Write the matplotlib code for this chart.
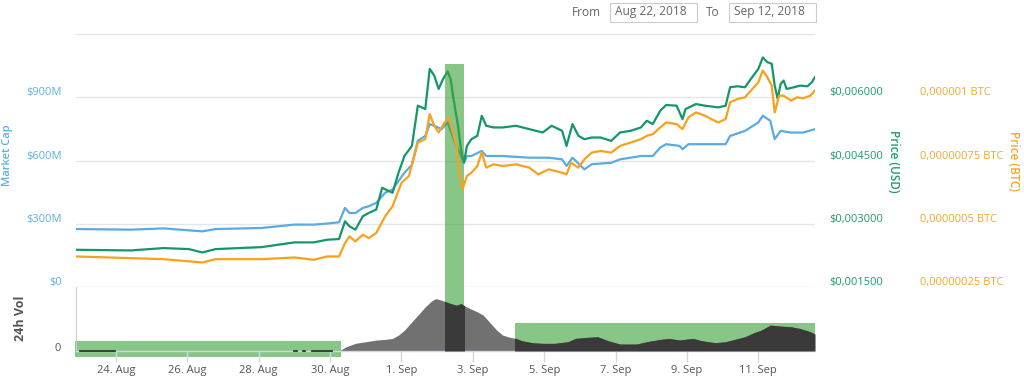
import numpy as np
import pandas as pd
import matplotlib
matplotlib.use("Agg")
import matplotlib.pyplot as plt
import matplotlib.dates as mdates
from matplotlib.patches import Rectangle
from matplotlib.transforms import ScaledTranslation

plt.rcParams['font.family'] = ['Open Sans', 'DejaVu Sans']

# ---------------- data (time in hours since 2018-08-22 00:00) ----------------
START = "2018-08-22 00:00"

t_usd = [21, 58, 80, 97, 106, 115, 146, 168, 181, 190, 198, 202, 205, 209, 214, 218, 223, 227, 234, 238,
         242, 247, 251, 256, 259, 262, 265, 268, 271, 273, 275, 278, 280, 282, 284, 287, 291, 294, 297, 302,
         308, 317, 326, 335, 341, 348, 351, 355, 359, 363, 368, 374, 381, 387, 394, 401, 405, 409, 414, 418,
         425, 429, 431, 438, 444, 453, 458, 461, 466, 471, 475, 480, 483, 486, 489, 491, 493, 495, 497, 499,
         504, 508, 513, 516, 518]
price_usd = [0.002389, 0.002373, 0.002429, 0.002405, 0.002325, 0.002405, 0.002452, 0.002564, 0.002564, 0.002627,
             0.002643, 0.003064, 0.002945, 0.002865, 0.003183, 0.003262, 0.003341, 0.003857, 0.003738, 0.004214,
             0.004611, 0.004849, 0.005802, 0.005722, 0.006675, 0.006516, 0.006199, 0.006437, 0.006611, 0.006437,
             0.005961, 0.005326, 0.004770, 0.004453, 0.004849, 0.005008, 0.005088, 0.005564, 0.005326, 0.005286,
             0.005286, 0.005326, 0.005246, 0.005167, 0.005326, 0.005207, 0.004849, 0.005365, 0.005088, 0.005008,
             0.005048, 0.005048, 0.004968, 0.005167, 0.005207, 0.005286, 0.005445, 0.005365, 0.005683, 0.005818,
             0.005802, 0.005484, 0.005722, 0.005841, 0.005802, 0.005762, 0.005802, 0.006238, 0.006262, 0.006238,
             0.006437, 0.006675, 0.006945, 0.006834, 0.006794, 0.006278, 0.005961, 0.006318, 0.006397, 0.006199,
             0.006238, 0.006278, 0.006262, 0.006357, 0.006477]

t_btc = [21, 58, 80, 106, 115, 146, 168, 181, 190, 198, 202, 205, 209, 214, 218, 223, 229, 234, 240, 245,
         251, 256, 259, 262, 265, 269, 272, 274, 277, 279, 281, 284, 287, 291, 294, 297, 302, 308, 317, 326,
         332, 339, 348, 351, 354, 359, 363, 368, 374, 381, 387, 394, 401, 405, 409, 414, 418, 425, 429, 433,
         438, 444, 453, 458, 461, 466, 471, 475, 480, 483, 486, 489, 491, 494, 497, 502, 506, 510, 515, 518]
price_btc = [3.717e-7, 3.651e-7, 3.611e-7, 3.479e-7, 3.611e-7, 3.611e-7, 3.677e-7, 3.585e-7, 3.717e-7, 3.717e-7,
             4.246e-7, 4.511e-7, 4.312e-7, 4.577e-7, 4.445e-7, 4.643e-7, 5.304e-7, 5.701e-7, 6.627e-7, 6.892e-7,
             8.214e-7, 8.347e-7, 9.339e-7, 8.876e-7, 8.611e-7, 9.008e-7, 9.207e-7, 8.744e-7, 8.082e-7, 7.024e-7,
             6.363e-7, 6.892e-7, 7.024e-7, 7.289e-7, 7.818e-7, 7.222e-7, 7.355e-7, 7.289e-7, 7.355e-7, 7.222e-7,
             6.958e-7, 7.156e-7, 7.024e-7, 6.958e-7, 7.421e-7, 7.222e-7, 7.553e-7, 7.818e-7, 7.884e-7, 7.818e-7,
             8.082e-7, 8.214e-7, 8.347e-7, 8.479e-7, 8.545e-7, 8.810e-7, 9.008e-7, 8.942e-7, 8.744e-7, 9.207e-7,
             9.405e-7, 9.273e-7, 9.008e-7, 9.140e-7, 9.802e-7, 9.934e-7, 10.000e-7, 10.265e-7, 10.595e-7, 11.059e-7,
             10.794e-7, 10.463e-7, 9.405e-7, 10.066e-7, 10.066e-7, 9.868e-7, 10.000e-7, 9.961e-7, 10.066e-7, 10.265e-7]

t_mcap = [21, 58, 80, 106, 115, 146, 168, 181, 190, 198, 202, 205, 209, 214, 218, 223, 229, 234, 238, 242,
          247, 251, 256, 259, 262, 267, 271, 275, 280, 282, 284, 287, 294, 297, 308, 326, 339, 348, 351, 355,
          363, 368, 381, 387, 401, 409, 414, 418, 427, 429, 433, 444, 458, 461, 471, 480, 483, 488, 491, 495,
          502, 510, 518]
market_cap_m = [276, 273, 279, 265, 276, 281, 297, 297, 302, 308, 376, 352, 352, 376, 384, 400, 448, 463, 503, 543,
                580, 695, 717, 773, 765, 749, 781, 702, 622, 590, 622, 622, 646, 622, 622, 614, 614, 606, 575, 614,
                559, 583, 590, 606, 622, 622, 662, 678, 670, 654, 678, 678, 678, 717, 741, 781, 813, 789, 702, 741,
                733, 733, 749]

t_vol = [199, 203, 209, 216, 223, 229, 234, 238, 242, 247, 251, 256, 260, 263, 267, 270, 273, 277, 280, 283,
         286, 291, 295, 299, 304, 308, 313, 317, 321, 328, 335, 343, 352, 357, 365, 372, 379, 387, 398, 405,
         414, 420, 427, 436, 442, 451, 458, 464, 471, 477, 482, 488, 495, 502, 508, 515, 518]
volume_m = [1.6, 6.8, 12.0, 14.6, 17.2, 18.2, 19.8, 25.0, 32.8, 45.8, 56.2, 69.3, 78.1, 82.3, 79.7, 77.1, 74.5, 71.9,
            74.5, 70.3, 66.7, 61.5, 56.2, 45.8, 32.8, 25.0, 21.4, 19.8, 16.1, 13.0, 12.0, 12.0, 14.6, 19.8, 21.4,
            22.4, 16.1, 10.9, 10.9, 14.6, 18.2, 19.8, 17.2, 19.8, 16.1, 13.0, 14.6, 18.2, 22.4, 28.6, 32.8, 40.6,
            39.1, 38.0, 35.4, 30.2, 26.6]
# short stretches with zero reported volume (hours)
vol_zero_runs = [(24, 47), (168, 170), (174, 175), (180, 193)]

# highlighted zones (hours) : (start, end, top of main panel zone in $M, top of volume zone in $M, bottom in $M)
zone_spike = (269.2, 281.9)
zone_late = (316.6, 518.1)
zone_early = (20.4, 199.3)

mcap_ticks = [0, 300, 600, 900, 1200]
mcap_labels = ["$0", "$300M", "$600M", "$900M", ""]
usd_ticks = [0.0015, 0.003, 0.0045, 0.006]
usd_labels = ["$0,001500", "$0,003000", "$0,004500", "$0,006000"]
btc_ticks = [0.00000025, 0.0000005, 0.00000075, 0.000001]
btc_labels = ["0,00000025 BTC", "0,0000005 BTC", "0,00000075 BTC", "0,000001 BTC"]
tick_dates = ["2018-08-24", "2018-08-26", "2018-08-28", "2018-08-30", "2018-09-01",
              "2018-09-03", "2018-09-05", "2018-09-07", "2018-09-09", "2018-09-11"]
tick_labels = ["24. Aug", "26. Aug", "28. Aug", "30. Aug", "1. Sep",
               "3. Sep", "5. Sep", "7. Sep", "9. Sep", "11. Sep"]
date_from = "Aug 22, 2018"
date_to = "Sep 12, 2018"

# ---------------- helpers ----------------
T0 = pd.Timestamp(START)


def num(hours):
    return mdates.date2num([T0 + pd.Timedelta(hours=float(h)) for h in np.atleast_1d(hours)])


C_BLUE = "#5aabe2"
C_GREEN = "#13976a"
C_ORANGE = "#f6a21c"
C_BLUE_T = "#5eb0e5"
C_GREEN_T = "#1f9a6c"
C_ORANGE_T = "#f2a62e"
C_ZONE = "#3fa33f"
ZONE_ALPHA = 0.62

W, H = 1024, 376
fig = plt.figure(figsize=(W / 100, H / 100), dpi=100)
L, R = 76, 815
top_main, base_main, base_vol = 34, 287.3, 351
ax = fig.add_axes([L / W, 1 - base_main / H, (R - L) / W, (base_main - top_main) / H])
axv = fig.add_axes([L / W, 1 - base_vol / H, (R - L) / W, (base_vol - base_main) / H])

xmin, xmax = num(21.1)[0], num(518.1)[0]

# ---------------- main panel ----------------
ax.set_xlim(xmin, xmax)
ax.set_ylim(0, 1200)
ax.set_yticks(mcap_ticks)
ax.set_yticklabels(mcap_labels)
ax.tick_params(axis='y', length=0, pad=10, labelsize=8, labelcolor=C_BLUE_T)
ax.tick_params(axis='x', bottom=False, labelbottom=False)
ax.grid(axis='y', color="#e6e6e6", lw=1)
for s in ax.spines.values():
    s.set_visible(False)
ax.set_facecolor("none")

ax_usd = ax.twinx()
ax_usd.set_ylim(0.0015, 0.0075)
ax_usd.set_yticks(usd_ticks)
ax_usd.set_yticklabels(usd_labels)
ax_usd.tick_params(axis='y', length=0, pad=10.5, labelsize=8, labelcolor=C_GREEN_T)

ax_btc = ax.twinx()
ax_btc.set_ylim(0.00000025, 0.00000125)
ax_btc.set_yticks(btc_ticks)
ax_btc.set_yticklabels(btc_labels)
ax_btc.tick_params(axis='y', length=0, pad=75.5, labelsize=8, labelcolor=C_ORANGE_T)

for a in (ax_usd, ax_btc):
    for s in a.spines.values():
        s.set_visible(False)
    a.set_xlim(xmin, xmax)

up = ScaledTranslation(0, 6 / 100, fig.dpi_scale_trans)
for a in (ax, ax_usd, ax_btc):
    for lab in a.get_yticklabels():
        lab.set_transform(lab.get_transform() + up)

ax.plot(num(t_mcap), market_cap_m, color=C_BLUE, lw=1.6, zorder=3)
ax_btc.plot(num(t_btc), price_btc, color=C_ORANGE, lw=1.6, zorder=3)
ax_usd.plot(num(t_usd), price_usd, color=C_GREEN, lw=1.6, zorder=3)

# spike zone rectangle over main panel (semi-transparent, above lines)
x0, x1 = num(zone_spike[0])[0], num(zone_spike[1])[0]
ax_usd.add_patch(Rectangle((x0, 0.0015), x1 - x0, 0.0015 + 0.0015 * 1058 / 300 - 0.0015,
                           facecolor=C_ZONE, alpha=ZONE_ALPHA, lw=0, zorder=5))

# ---------------- volume panel ----------------
axv.set_xlim(xmin, xmax)
axv.set_ylim(0, 100)
axv.set_yticks([0])
axv.set_yticklabels(["0"])
axv.tick_params(axis='y', length=0, pad=11, labelsize=8, labelcolor="#555555")
for lab in axv.get_yticklabels():
    lab.set_transform(lab.get_transform() + ScaledTranslation(0, 4 / 100, fig.dpi_scale_trans))
for k in ("top", "right"):
    axv.spines[k].set_visible(False)
axv.spines["left"].set_color("#cccccc")
axv.spines["left"].set_linewidth(0.8)
axv.spines["bottom"].set_color("#ccd6eb")
axv.spines["bottom"].set_linewidth(1)
axv.set_facecolor("none")

tick_nums = mdates.date2num(pd.to_datetime(tick_dates))
axv.set_xticks(tick_nums)
axv.set_xticklabels(tick_labels)
axv.tick_params(axis='x', length=8, width=1, color="#ccd6eb", pad=2, labelsize=8, labelcolor="#555555")

# zone rectangles (behind volume area)
for (a0, a1), ytop, ybot in ((zone_spike, 100, 0), (zone_late, 43.3, 0), (zone_early, 16.1, -9.8)):
    n0, n1 = num(a0)[0], num(a1)[0]
    axv.add_patch(Rectangle((n0, ybot), n1 - n0, ytop - ybot, facecolor=C_ZONE, alpha=ZONE_ALPHA,
                            lw=0, zorder=1, clip_on=False))

tv = num(t_vol)
axv.fill_between(tv, 0, volume_m, color="#717171", lw=0, zorder=2)
for (a0, a1) in (zone_spike, zone_late):
    n0, n1 = num(a0)[0], num(a1)[0]
    dark = axv.fill_between(tv, 0, volume_m, color="#3a3a3a", lw=0, zorder=3)
    clip = Rectangle((n0, -10), n1 - n0, 200, transform=axv.transData)
    dark.set_clip_path(clip)

for a0, a1 in vol_zero_runs:
    axv.plot(num([a0, a1]), [0.6, 0.6], color="#333333", lw=1.3, zorder=3, clip_on=False)

# ---------------- titles ----------------
fig.text(8 / W, 1 - 155 / H, "Market Cap", rotation=90, ha='center', va='center',
         color=C_BLUE_T, fontsize=8, fontweight='semibold')
fig.text(20 / W, 1 - 318 / H, "24h Vol", rotation=90, ha='center', va='center',
         color="#555555", fontsize=9, fontweight='bold')
fig.text(893.5 / W, 1 - 161 / H, "Price (USD)", rotation=270, ha='center', va='center',
         color=C_GREEN_T, fontsize=8.5, fontweight='semibold')
fig.text(1014 / W, 1 - 161 / H, "Price (BTC)", rotation=270, ha='center', va='center',
         color=C_ORANGE_T, fontsize=8.5, fontweight='semibold')

# ---------------- date range inputs ----------------
fig.text(572 / W, 1 - 12 / H, "From", ha='left', va='center', color="#666666", fontsize=8.6)
fig.text(706 / W, 1 - 12 / H, "To", ha='left', va='center', color="#666666", fontsize=8.6)
for bx0, bx1, txt in ((610, 697, date_from), (729, 816, date_to)):
    fig.add_artist(Rectangle((bx0 / W, 1 - 21.7 / H), (bx1 - bx0) / W, 19 / H,
                             transform=fig.transFigure, facecolor="white", edgecolor="#cccccc", lw=0.8))
    fig.text((bx0 + 5) / W, 1 - 12 / H, txt, ha='left', va='center', color="#666666", fontsize=8.6)

fig.savefig("out.png", dpi=100, facecolor="white")
